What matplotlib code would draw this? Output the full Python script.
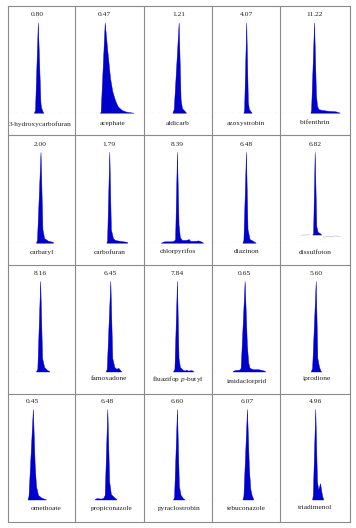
import matplotlib
matplotlib.use("Agg")
import matplotlib.pyplot as plt
from matplotlib.lines import Line2D

plt.rcParams['font.family'] = ['Liberation Serif', 'DejaVu Serif']
plt.rcParams['mathtext.fontset'] = 'custom'
plt.rcParams['mathtext.rm'] = 'Liberation Serif'
plt.rcParams['mathtext.it'] = 'Liberation Serif:italic'

# ---------------- data ----------------
names = ["3-hydroxycarbofuran", "acephate", "aldicarb", "azoxystrobin", "bifenthrin",
         "carbaryl", "carbofuran", "chlorpyrifos", "diazinon", "dissulfoton",
         "", "famoxadone", "fluazifop $\\it{p}$-butyl", "imidaclorprid", "iprodione",
         "omethoate", "propiconazole", "pyraclostrobin", "tebuconazole", "triadimenol"]
retention = ["0.80", "0.47", "1.21", "4.07", "11.22",
             "2.00", "1.79", "8.39", "6.48", "6.82",
             "8.16", "6.45", "7.84", "0.65", "5.60",
             "0.45", "6.48", "6.60", "6.07", "4.96"]
apex_time = [44.7, 43.0, 51.2, 50.1, 48.8,
             48.7, 49.7, 48.7, 49.7, 49.7,
             48.2, 51.2, 48.7, 47.8, 51.2,
             37.4, 46.8, 48.7, 51.2, 50.5]

# chromatogram traces (relative time, relative intensity %)
trace_t = [
    [38.9, 40.6, 44.7, 48.5, 49.4, 52, 53],
    [36, 37.1, 43, 46, 50.7, 54, 58, 62, 67.8, 75, 85],
    [42, 44, 51.2, 54, 56, 61, 62],
    [46, 47, 50.1, 52.5, 54, 57, 58],
    [43.5, 44.5, 48.8, 51.5, 53, 55, 60, 70, 80, 86],
    [42, 43.5, 48.7, 51.5, 54, 60, 66.7, 67],
    [45.5, 46.5, 49.7, 52, 55, 58, 65, 75, 76],
    [25, 30, 40, 44, 46, 48.7, 51, 53, 56, 62, 66, 68, 75, 80, 85, 87],
    [44.5, 46, 49.7, 52, 55, 60, 64],
    [46, 47.4, 49.7, 52, 54, 56, 58, 59],
    [42, 44, 48.2, 51, 54, 58, 62],
    [44.5, 46, 51.2, 54, 57, 60, 63, 66, 67],
    [43, 45, 48.7, 51, 53, 57, 60, 62, 65, 70, 73],
    [30, 33, 40, 42, 47.8, 51, 53, 55, 60, 68, 76, 78],
    [44, 46, 51.2, 53.5, 56, 58, 59],
    [29.5, 31, 37.4, 40, 42, 45, 50, 57],
    [28, 31, 38, 41, 43, 46.8, 49.5, 52, 56, 60.5],
    [43, 44.5, 48.7, 51.5, 54, 58, 60],
    [44.5, 46, 51.2, 54, 56, 58, 60.5],
    [46, 47, 50.5, 53, 54.7, 56, 57.5, 59, 60.5, 62],
]
trace_i = [
    [0, 3, 100, 12, 6, 1, 0],
    [0, 1, 100, 75, 39, 24, 14, 7, 3, 1, 0],
    [0, 4, 100, 15, 5, 1, 0],
    [0, 3, 100, 12, 4, 1, 0],
    [0, 3, 100, 20, 8, 4, 3, 2, 1.5, 0],
    [0, 3, 100, 15, 5, 2, 1, 0],
    [0, 3, 100, 15, 5, 3, 2, 1, 0],
    [0, 1.5, 1.5, 2, 4, 100, 20, 6, 3, 3, 4, 2, 2, 2.5, 1, 0],
    [0, 3, 100, 15, 4, 2, 0],
    [9, 10, 100, 18, 12, 11, 10, 9],
    [0, 3, 100, 15, 5, 2, 0],
    [0, 3, 100, 15, 5, 3, 4, 1, 0],
    [0, 3, 100, 15, 5, 2, 1, 2, 1, 1.5, 0],
    [0, 1.5, 2, 4, 100, 30, 10, 4, 2.5, 2.5, 1, 0],
    [0, 4, 100, 15, 5, 1, 0],
    [0, 4, 100, 40, 15, 5, 2, 0],
    [0, 1.5, 1, 2, 5, 100, 20, 6, 3, 0],
    [0, 3, 100, 15, 5, 1, 0],
    [0, 4, 100, 35, 12, 5, 0],
    [0, 5, 100, 20, 11, 14, 18, 10, 4, 0],
]
# floor of the filled area (dissulfoton sits above the baseline)
fill_floor = [0, 0, 0, 0, 0, 0, 0, 0, 0, 9,
              0, 0, 0, 0, 0, 0, 0, 0, 0, 0]
# faint background trace of dissulfoton
dis_noise_t = [[30, 34, 38, 42], [62, 68, 74, 80, 86]]
dis_noise_i = [[8, 8.5, 8.5, 9], [6, 7, 6.5, 7.5, 7]]

# ---------------- layout ----------------
W, H = 356, 528
col_x = [7.5, 75.3, 143.7, 212.0, 280.3, 349.5]
row_y = [5.7, 134.7, 264.5, 394.0, 522.0]
base_off = [107.0, 108.0, 107.0, 105.5]
apex_off = [16.8, 17.3, 16.5, 15.0]
name_dx = [-1, 3, 0, 0, 0, 0, 0, 0, 0, 0, 0, 0, 0, 1, 2, 5, 2, 1, 0, 0]
name_dy = [11, 11, 11, 11, 10, 10, 10, 8, 9, 10, 9, 7, 7, 10, 7, 9, 9, 9, 9, 8]

BLUE = '#0000cc'
GRID = '#8a8a8a'

fig = plt.figure(figsize=(W / 100, H / 100), dpi=100)

for x in col_x:
    fig.add_artist(Line2D([x / W, x / W], [1 - row_y[0] / H, 1 - row_y[-1] / H],
                          color=GRID, lw=0.8))
for y in row_y:
    fig.add_artist(Line2D([col_x[0] / W, col_x[-1] / W], [1 - y / H, 1 - y / H],
                          color=GRID, lw=0.8))

for k in range(20):
    r, c = divmod(k, 5)
    L = col_x[c]
    w = col_x[c + 1] - col_x[c]
    T = row_y[r]
    bottom = 1 - (T + base_off[r]) / H
    height = (base_off[r] - apex_off[r]) / H
    ax = fig.add_axes([L / W, bottom, w / W, height])
    ax.set_xlim(0, 100)
    ax.set_ylim(0, 100)
    ax.axis('off')
    # dashed baseline
    ax.plot([2, 95], [0, 0], color='#a8a8b8', lw=0.8, dashes=(2.5, 3.0), zorder=1)
    if k == 9:
        for nt, ni in zip(dis_noise_t, dis_noise_i):
            ax.plot(nt, ni, color='#c0c0d0', lw=0.5, zorder=1)
    ax.fill_between(trace_t[k], trace_i[k], fill_floor[k], color=BLUE, lw=0.3,
                    edgecolor=BLUE, zorder=2)
    ax.annotate(retention[k], (apex_time[k], 100), xytext=(0, 5.6),
                textcoords='offset points', ha='center', va='center', fontsize=5.4,
                color='#222222', annotation_clip=False)
    if names[k]:
        ax.annotate(names[k], (50 + name_dx[k] * 100 / w, 0),
                    xytext=(0, -name_dy[k] * 0.72), textcoords='offset points',
                    ha='center', va='center', fontsize=5.3, color='#222222',
                    annotation_clip=False)

fig.savefig('out.png', dpi=100)
